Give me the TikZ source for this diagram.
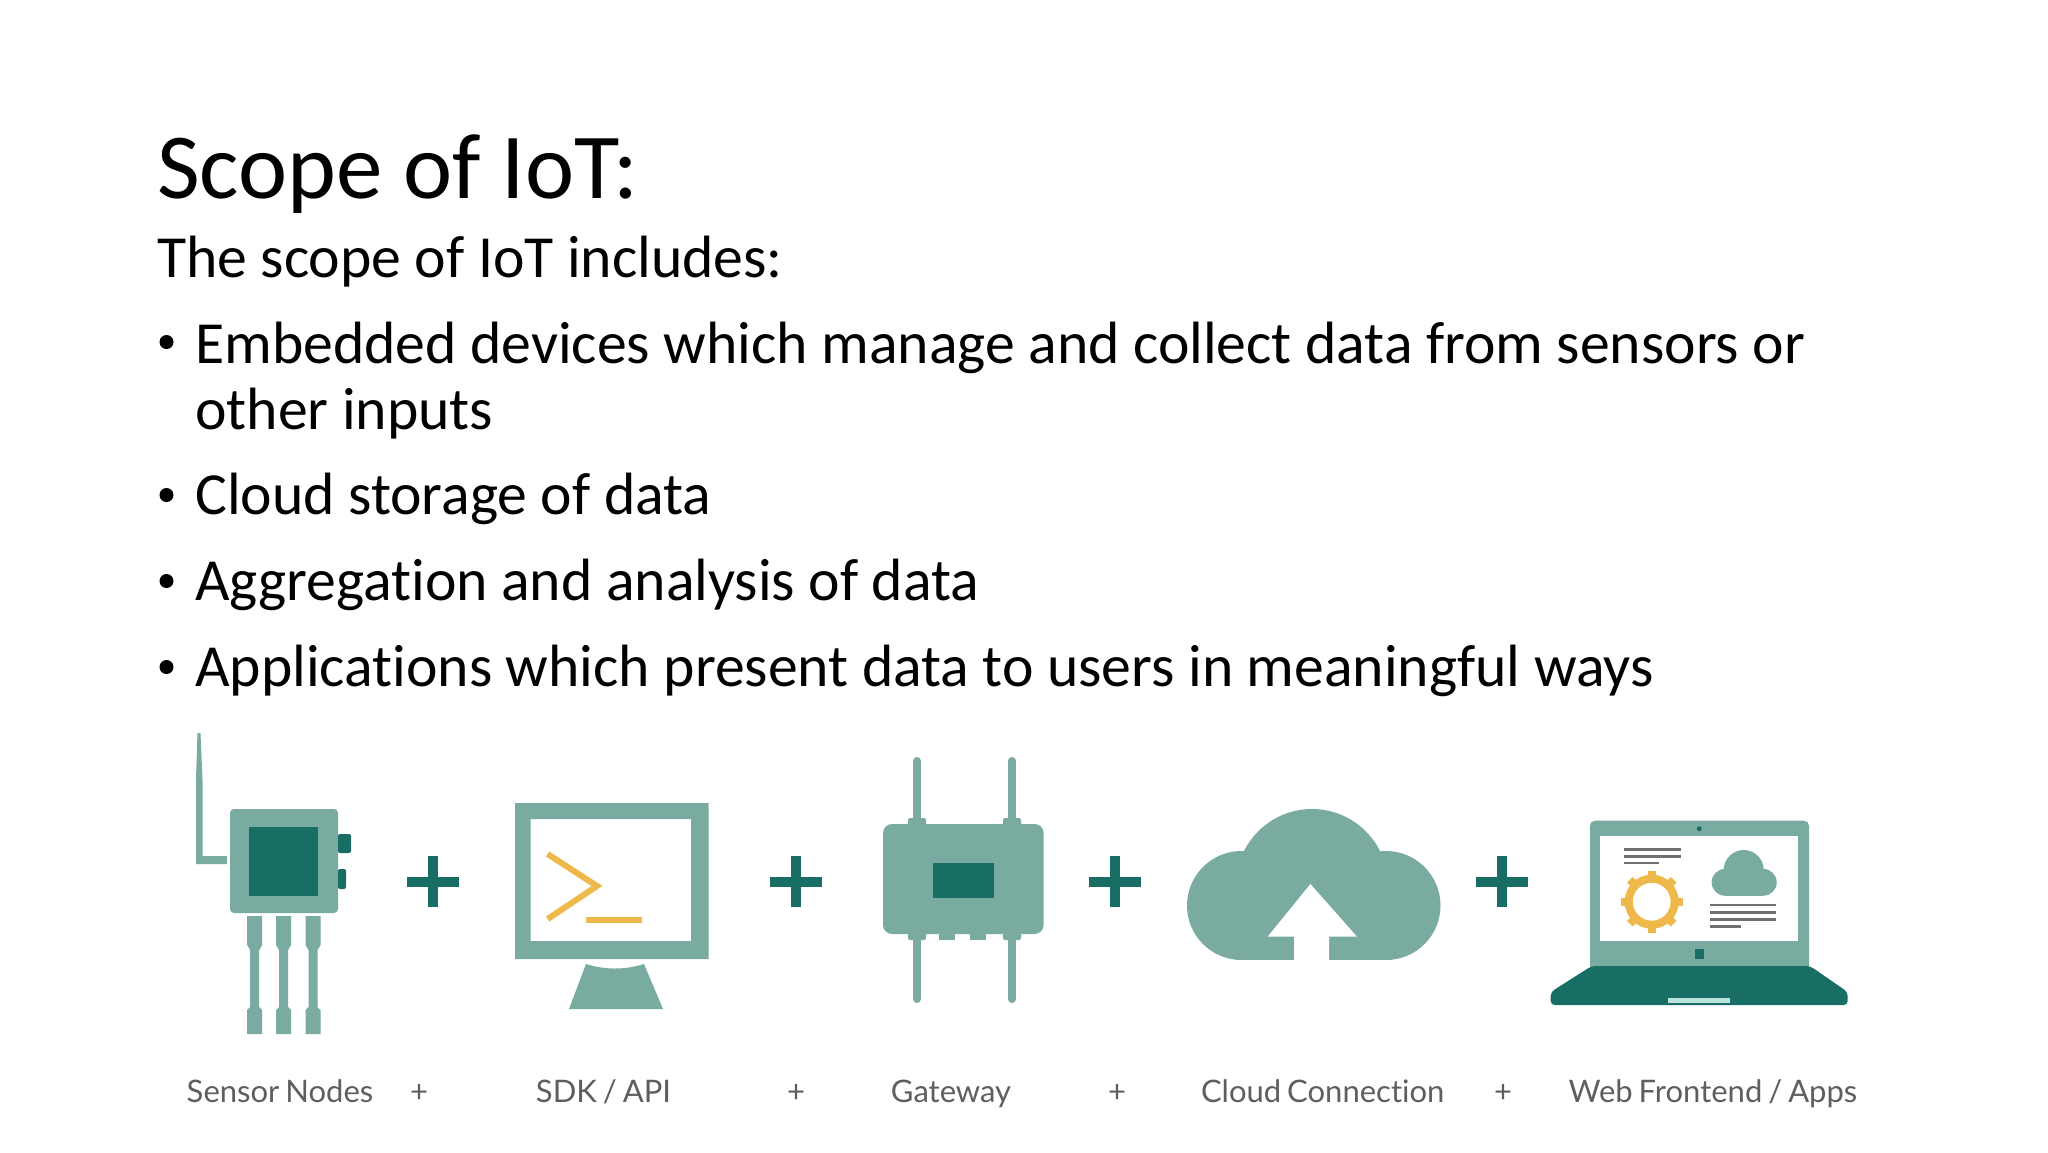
\documentclass[tikz,border=0pt]{standalone}
\usepackage{fontspec}
\setmainfont{Carlito}[Ligatures=NoCommon]
\newfontfamily\labelfont{Lato}[Ligatures=NoCommon,WordSpace=0.75]
\definecolor{teallight}{HTML}{7AABA0}
\definecolor{tealdark}{HTML}{186E64}
\definecolor{goldline}{HTML}{EFB84A}
\definecolor{textgray}{HTML}{5E5E5E}
\definecolor{linegray}{HTML}{707070}
\definecolor{lightbar}{HTML}{B8E4DC}
\tikzset{
  titletext/.style={anchor=base west,inner sep=0pt,font=\fontsize{93}{93}\selectfont},
  bodytext/.style={anchor=base west,inner sep=0pt,align=left,font=\fontsize{59.7}{65.3}\selectfont},
  icontext/.style={anchor=base,inner sep=0pt,text=textgray,font=\labelfont\fontsize{31}{31}\selectfont},
  pluslabel/.style={icontext},
  screenline/.style={linegray,line width=2.5pt}
}
\begin{document}
\begin{tikzpicture}[x=1pt,y=-1pt]
\useasboundingbox (0,0) rectangle (2048,1152);
\fill[white] (0,0) rectangle (2048,1152);

% slide text
\node[titletext] (title) at (157,198) {Scope of IoT:};
\node[bodytext] (intro) at (157,277.5) {The scope of IoT includes:};
\foreach \nm/\yy/\txt in {embedded/429/{Embedded devices which manage and collect data from sensors or\\other inputs},
    cloud/514.6/{Cloud storage of data},
    aggregation/600.8/{Aggregation and analysis of data},
    applications/686/{Applications which present data to users in meaningful ways}} {
  \node[bodytext] (\nm) at (195,\yy) {\txt};
}
\foreach \yy in {342,495,581,667} {
  \fill[black] (166.5,\yy) circle[radius=7];
}

% plus signs between the icons
\foreach \px in {433,796,1115,1502} {
  \fill[tealdark] (\px-26,876.7) rectangle (\px+26,886.7);
  \fill[tealdark] (\px-5,856) rectangle (\px+5,907);
}

% sensor node
\fill[teallight] (197.5,733) -- (200.5,733) -- (202.5,780) -- (202.5,856) -- (227,856)
  -- (227,864) -- (196,864) -- (196,780) -- cycle;
\fill[teallight,rounded corners=4pt] (230,809) rectangle (338,913);
\fill[tealdark] (249,827) rectangle (317.5,896);
\fill[tealdark,rounded corners=2pt] (338,834) rectangle (351,853);
\fill[tealdark,rounded corners=2pt] (338,869) rectangle (346,889);
\foreach \px in {254.7,283.6,313} {
  \fill[teallight] (\px-7.5,916) -- (\px+7.5,916) -- (\px+7.5,945) -- (\px+4.5,950) -- (\px+4.5,1007)
    -- (\px+7.5,1010) -- (\px+7.5,1034) -- (\px-7.5,1034) -- (\px-7.5,1010) -- (\px-4.5,1007)
    -- (\px-4.5,950) -- (\px-7.5,945) -- cycle;
}

% monitor
\fill[teallight,even odd rule] (515,803) rectangle (708.5,959) (530.5,819) rectangle (691,941);
\fill[teallight] (586,964) .. controls (605,970) and (625,970) .. (644,964) -- (663,1009) -- (569,1009) -- cycle;
\draw[goldline,line width=6pt] (547.6,854) -- (597,886) -- (547.6,919);
\draw[goldline,line width=6pt] (586,920) -- (641.5,920);

% gateway
\foreach \px in {917,1012} {
  \draw[teallight,line width=8pt,line cap=round] (\px,761) -- (\px,999);
  \fill[teallight,rounded corners=2pt] (\px-9,818) rectangle (\px+9,830);
  \fill[teallight,rounded corners=2pt] (\px-9,928) rectangle (\px+9,940);
}
\foreach \px in {946.5,978} {
  \fill[teallight] (\px-8,930) rectangle (\px+8,940);
}
\fill[teallight,rounded corners=9pt] (883,824) rectangle (1043.6,934);
\fill[tealdark] (933,863) rectangle (994,898);

% cloud with upload arrow
\fill[teallight] (1241.5,905.5) circle[radius=54.5];
\fill[teallight] (1386,905.5) circle[radius=54.5];
\fill[teallight] (1312,885) circle[radius=76];
\fill[teallight] (1241.5,900) rectangle (1386,960);
\fill[white] (1310.4,884) -- (1357,936.7) -- (1329,936.7) -- (1329,961) -- (1294,961)
  -- (1294,936.7) -- (1267.6,936.7) -- cycle;

% laptop
\fill[teallight,rounded corners=5pt] (1590,820.7) -- (1809,820.7) -- (1809,972) -- (1590,972) -- cycle;
\fill[white] (1600,836) rectangle (1798.3,941.3);
\fill[tealdark] (1699.3,828.7) circle[radius=2.5];
\fill[tealdark] (1695,949) rectangle (1704,958.7);
\fill[tealdark,rounded corners=4pt] (1591.7,966) -- (1810,966) -- (1847.7,992) -- (1847.7,1005)
  -- (1550.7,1005) -- (1550.7,992) -- cycle;
\fill[lightbar] (1668,998) rectangle (1730,1002.7);
\foreach \yy/\xe in {849.7/1681,856.3/1681,863/1659} {
  \draw[screenline] (1624,\yy) -- (\xe,\yy);
}
\foreach \yy/\xe in {905/1775.7,912.3/1775.7,919.7/1775.7,926.7/1740.7} {
  \draw[screenline] (1710,\yy) -- (\xe,\yy);
}
% gear on the screen
\coordinate (gear) at (1651.7,901.7);
\draw[goldline,line width=8pt] (gear) circle[radius=23];
\foreach \a in {0,45,...,315} {
  \draw[goldline,line width=8pt] (gear) ++(\a:25) -- ++(\a:6);
}
% small cloud on the screen
\fill[teallight] (1725,882.3) circle[radius=13.4];
\fill[teallight] (1763.3,882.3) circle[radius=13.4];
\fill[teallight] (1743.7,870) circle[radius=20];
\fill[teallight] (1725,875) rectangle (1763.3,895.7);

% captions
\node[icontext] (sensorlabel) at (280,1102) {Sensor Nodes};
\node[icontext] (sdklabel) at (603.5,1102) {SDK / API};
\node[icontext] (gatewaylabel) at (951,1102) {Gateway};
\node[icontext] (cloudlabel) at (1322.7,1102) {Cloud Connection};
\node[icontext] (weblabel) at (1713,1102) {Web Frontend / Apps};
\foreach \nm/\px in {plusa/419,plusb/796,plusc/1117,plusd/1503} {
  \node[pluslabel] (\nm) at (\px,1102) {+};
}
\end{tikzpicture}
\end{document}
